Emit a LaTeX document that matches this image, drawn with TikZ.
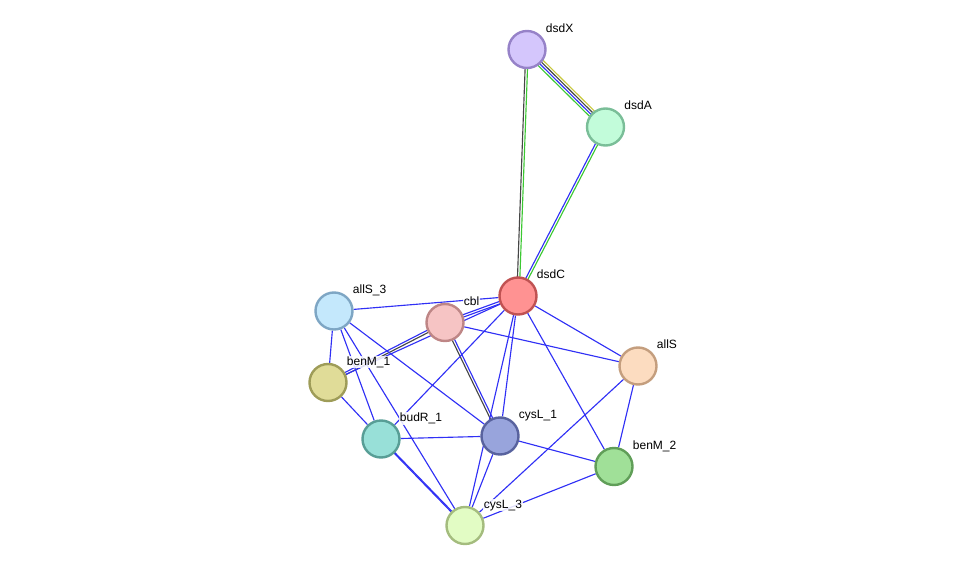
\documentclass[tikz,border=0pt]{standalone}
\usepackage{fontspec}
\setmainfont{Liberation Sans}
\usetikzlibrary{calc,backgrounds}

\definecolor{eblue}{RGB}{48,48,245}
\definecolor{egray}{RGB}{70,70,70}
\definecolor{egreen}{RGB}{60,200,50}
\definecolor{eyellow}{RGB}{200,200,60}

\definecolor{fX}{RGB}{212,198,252}\definecolor{bX}{RGB}{150,130,200}
\definecolor{fA}{RGB}{194,252,218}\definecolor{bA}{RGB}{122,190,152}
\definecolor{fC}{RGB}{255,146,146}\definecolor{bC}{RGB}{192,82,82}
\definecolor{fcbl}{RGB}{246,196,196}\definecolor{bcbl}{RGB}{190,134,134}
\definecolor{fas3}{RGB}{196,232,252}\definecolor{bas3}{RGB}{126,166,196}
\definecolor{fbm1}{RGB}{224,220,152}\definecolor{bbm1}{RGB}{158,156,88}
\definecolor{fbr1}{RGB}{152,224,216}\definecolor{bbr1}{RGB}{88,158,150}
\definecolor{fcl1}{RGB}{152,164,220}\definecolor{bcl1}{RGB}{88,98,158}
\definecolor{fas}{RGB}{252,220,192}\definecolor{bas}{RGB}{196,158,126}
\definecolor{fbm2}{RGB}{160,224,152}\definecolor{bbm2}{RGB}{96,158,88}
\definecolor{fcl3}{RGB}{226,252,196}\definecolor{bcl3}{RGB}{164,188,126}

\newcommand\pedge[4]{\draw[#4] ($(#1)!#3!90:(#2)$) -- ($(#2)!#3!-90:(#1)$);}

\begin{document}
\begin{tikzpicture}[x=0.75pt,y=-0.75pt,
  prot/.style={circle, draw, line width=1.8pt, minimum size=27.75pt, inner sep=0pt},
  lab/.style={anchor=base west, font=\fontsize{9}{10}\selectfont, inner sep=0.5pt, fill=white, fill opacity=0.85, text opacity=1},
  eb/.style={draw=eblue, line width=0.85pt},
  eg/.style={draw=egray, line width=0.85pt},
  egr/.style={draw=egreen, line width=0.85pt},
  ey/.style={draw=eyellow, line width=0.85pt}]
\useasboundingbox (0,0) rectangle (975,571);

\node[prot, fill=fX, draw=bX] (dsdX) at (527,49.5) {};
\node[prot, fill=fA, draw=bA] (dsdA) at (605.5,127) {};
\node[prot, fill=fC, draw=bC] (dsdC) at (518,296) {};
\node[prot, fill=fcbl, draw=bcbl] (cbl) at (445,322.5) {};
\node[prot, fill=fas3, draw=bas3] (allSthree) at (334,311) {};
\node[prot, fill=fbm1, draw=bbm1] (benMone) at (328,382.5) {};
\node[prot, fill=fbr1, draw=bbr1] (budRone) at (381,439) {};
\node[prot, fill=fcl1, draw=bcl1] (cysLone) at (500,436) {};
\node[prot, fill=fas, draw=bas] (allS) at (638,366) {};
\node[prot, fill=fbm2, draw=bbm2] (benMtwo) at (614,466.5) {};
\node[prot, fill=fcl3, draw=bcl3] (cysLthree) at (465,525.5) {};

\begin{scope}[on background layer]
\pedge{dsdX}{dsdA}{2.7pt}{ey}
\pedge{dsdX}{dsdA}{0.9pt}{eg}
\pedge{dsdX}{dsdA}{-0.9pt}{eb}
\pedge{dsdX}{dsdA}{-2.7pt}{egr}
\pedge{dsdX}{dsdC}{0.9pt}{egr}
\pedge{dsdX}{dsdC}{-0.9pt}{eg}
\pedge{dsdA}{dsdC}{0.9pt}{egr}
\pedge{dsdA}{dsdC}{-0.9pt}{eb}
\pedge{cbl}{dsdC}{0.9pt}{eb}
\pedge{cbl}{dsdC}{-0.9pt}{eb}
\pedge{cbl}{benMone}{0.9pt}{eg}
\pedge{cbl}{benMone}{-0.9pt}{eb}
\pedge{cbl}{cysLone}{0.9pt}{eb}
\pedge{cbl}{cysLone}{-0.9pt}{eg}
\pedge{budRone}{cysLthree}{0.35pt}{eb}
\pedge{budRone}{cysLthree}{-0.35pt}{eb}
\draw[eb] (allSthree) -- (dsdC);
\draw[eb] (allSthree) -- (benMone);
\draw[eb] (allSthree) -- (budRone);
\draw[eb] (allSthree) -- (cysLthree);
\draw[eb] (allSthree) -- (cysLone);
\draw[eb] (benMone) -- (dsdC);
\draw[eb] (benMone) -- (budRone);
\draw[eb] (budRone) -- (dsdC);
\draw[eb] (budRone) -- (cysLone);
\draw[eb] (cysLone) -- (dsdC);
\draw[eb] (cysLone) -- (benMtwo);
\draw[eb] (cysLone) -- (cysLthree);
\draw[eb] (dsdC) -- (cysLthree);
\draw[eb] (dsdC) -- (allS);
\draw[eb] (dsdC) -- (benMtwo);
\draw[eb] (cbl) -- (allS);
\draw[eb] (allS) -- (benMtwo);
\draw[eb] (allS) -- (cysLthree);
\draw[eb] (benMtwo) -- (cysLthree);
\end{scope}

\node[lab] (ldsdX) at ($(dsdX)+(18,-17.5)$) {dsdX};
\node[lab] (ldsdA) at ($(dsdA)+(18,-17.5)$) {dsdA};
\node[lab] (ldsdC) at ($(dsdC)+(18,-17.5)$) {dsdC};
\node[lab] (lcbl) at ($(cbl)+(18,-17.5)$) {cbl};
\node[lab] (lallSthree) at ($(allSthree)+(18,-17.5)$) {allS\_3};
\node[lab] (lbenMone) at ($(benMone)+(18,-17.5)$) {benM\_1};
\node[lab] (lbudRone) at ($(budRone)+(18,-17.5)$) {budR\_1};
\node[lab] (lcysLone) at ($(cysLone)+(18,-17.5)$) {cysL\_1};
\node[lab] (lallS) at ($(allS)+(18,-17.5)$) {allS};
\node[lab] (lbenMtwo) at ($(benMtwo)+(18,-17.5)$) {benM\_2};
\node[lab] (lcysLthree) at ($(cysLthree)+(18,-17.5)$) {cysL\_3};
\end{tikzpicture}
\end{document}
